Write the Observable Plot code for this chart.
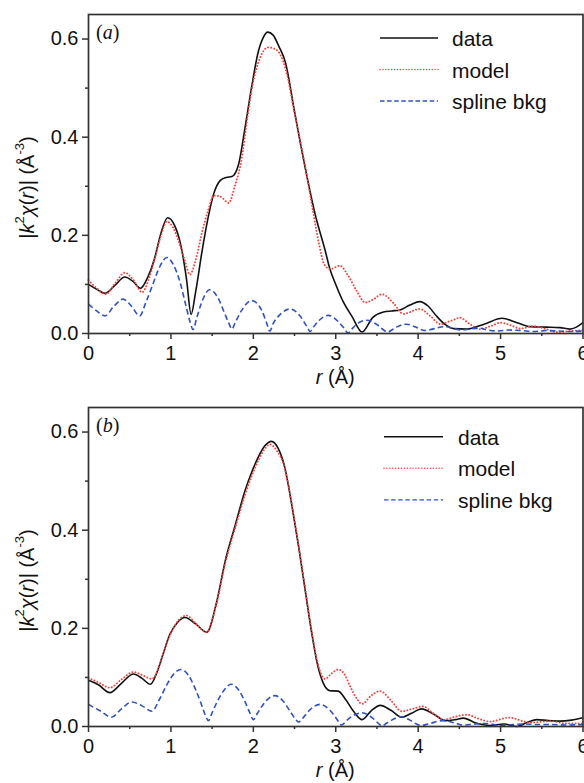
<!DOCTYPE html>
<html><head><meta charset="utf-8">
<script src="https://cdn.jsdelivr.net/npm/d3@7"></script>
<script src="https://cdn.jsdelivr.net/npm/@observablehq/plot@0.6"></script>
<style>
body{margin:0;background:#fff;}
#chart svg{display:block;}
</style></head><body><div id="chart"></div>
<script>
// ---------- data ----------
const xMajor = [0, 1, 2, 3, 4, 5, 6];
const xMinor = [0.5, 1.5, 2.5, 3.5, 4.5, 5.5];
const yMajor = [0, 0.2, 0.4, 0.6];
const yMinor = [0.1, 0.3, 0.5];
const seriesNames = ["data", "model", "spline bkg"];
const panelLetters = ["a", "b"];

// panel (a)
const aDataR = [0,0.1,0.2,0.32,0.44,0.54,0.63,0.72,0.8,0.88,0.96,1.04,1.12,1.19,1.245,1.3,1.38,1.45,1.52,1.6,1.67,1.74,1.82,1.9,1.98,2.06,2.12,2.175,2.24,2.31,2.39,2.5,2.63,2.75,2.87,2.93,3.0,3.09,3.2,3.32,3.45,3.58,3.68,3.78,3.9,4.02,4.12,4.22,4.33,4.43,4.59,4.8,5.02,5.2,5.36,5.55,5.72,5.84,5.92,6.0];
const aDataV = [0.100,0.090,0.082,0.098,0.115,0.106,0.092,0.115,0.152,0.205,0.236,0.222,0.180,0.110,0.039,0.085,0.170,0.235,0.285,0.312,0.318,0.320,0.344,0.420,0.503,0.574,0.603,0.614,0.608,0.585,0.552,0.452,0.337,0.243,0.170,0.131,0.100,0.065,0.034,0.003,0.033,0.044,0.046,0.048,0.058,0.065,0.056,0.036,0.018,0.010,0.009,0.019,0.031,0.022,0.014,0.013,0.012,0.009,0.013,0.022];
const aModelR = [0,0.1,0.21,0.33,0.44,0.55,0.65,0.73,0.8,0.88,0.95,1.03,1.1,1.17,1.23,1.3,1.38,1.45,1.52,1.6,1.7,1.78,1.86,1.92,1.98,2.08,2.18,2.28,2.39,2.5,2.63,2.73,2.8,2.86,2.93,3.05,3.15,3.25,3.36,3.46,3.56,3.7,3.82,4.02,4.15,4.27,4.4,4.51,4.62,4.75,4.88,5.0,5.12,5.24,5.4,5.55,5.68,5.85,6.0];
const aModelV = [0.109,0.092,0.080,0.104,0.124,0.108,0.084,0.110,0.150,0.200,0.228,0.215,0.185,0.148,0.120,0.150,0.208,0.250,0.281,0.279,0.266,0.303,0.357,0.430,0.497,0.561,0.583,0.578,0.540,0.450,0.340,0.243,0.180,0.141,0.131,0.138,0.118,0.088,0.063,0.070,0.080,0.062,0.040,0.050,0.035,0.019,0.026,0.032,0.020,0.009,0.015,0.022,0.017,0.010,0.015,0.009,0.003,0.005,0.007];
const aBkgR = [0,0.1,0.2,0.31,0.42,0.52,0.62,0.7,0.78,0.87,0.95,1.03,1.11,1.18,1.23,1.27,1.31,1.37,1.47,1.57,1.65,1.7,1.74,1.78,1.85,1.98,2.1,2.16,2.2,2.24,2.32,2.45,2.57,2.65,2.69,2.73,2.8,2.91,3.02,3.1,3.15,3.2,3.27,3.38,3.5,3.59,3.63,3.68,3.75,3.86,3.97,4.08,4.2,4.32,4.43,4.53,4.63,4.73,4.85,4.97,5.1,5.25,5.4,5.55,5.7,5.85,6.0];
const aBkgV = [0.060,0.046,0.036,0.056,0.070,0.056,0.036,0.065,0.100,0.138,0.155,0.140,0.105,0.058,0.025,0.008,0.030,0.062,0.089,0.073,0.042,0.022,0.009,0.022,0.045,0.067,0.048,0.022,0.005,0.020,0.038,0.050,0.035,0.014,0.004,0.013,0.027,0.037,0.026,0.011,0.001,0.010,0.021,0.027,0.018,0.006,0.003,0.007,0.014,0.019,0.013,0.006,0.010,0.014,0.010,0.007,0.009,0.011,0.007,0.005,0.007,0.006,0.004,0.006,0.005,0.004,0.005];

// panel (b)
const bDataR = [0,0.12,0.26,0.4,0.545,0.65,0.75,0.83,0.9,0.99,1.08,1.17,1.3,1.435,1.55,1.66,1.78,1.9,1.98,2.06,2.14,2.22,2.3,2.38,2.47,2.55,2.63,2.71,2.78,2.85,2.93,3.03,3.12,3.22,3.32,3.43,3.54,3.67,3.8,3.92,4.04,4.2,4.33,4.45,4.55,4.7,4.87,5.04,5.2,5.32,5.44,5.58,5.72,5.86,6.0];
const bDataV = [0.094,0.085,0.069,0.088,0.107,0.098,0.086,0.110,0.145,0.189,0.212,0.222,0.209,0.192,0.250,0.338,0.410,0.481,0.518,0.549,0.572,0.581,0.567,0.529,0.448,0.366,0.277,0.189,0.125,0.088,0.073,0.072,0.055,0.030,0.014,0.032,0.043,0.033,0.019,0.027,0.036,0.024,0.012,0.014,0.017,0.007,0.002,0.005,0.000,0.008,0.014,0.012,0.011,0.013,0.018];
const bModelR = [0,0.12,0.26,0.4,0.545,0.66,0.77,0.84,0.9,1.0,1.1,1.19,1.3,1.435,1.55,1.66,1.78,1.9,1.98,2.06,2.14,2.2,2.28,2.38,2.47,2.55,2.63,2.71,2.78,2.87,2.95,3.03,3.1,3.18,3.25,3.32,3.43,3.54,3.67,3.8,3.93,4.06,4.18,4.31,4.45,4.59,4.73,4.87,5.1,5.36,5.6,5.8,6.0];
const bModelV = [0.099,0.090,0.079,0.096,0.111,0.104,0.097,0.115,0.145,0.190,0.218,0.226,0.210,0.192,0.248,0.333,0.405,0.472,0.510,0.542,0.566,0.575,0.563,0.527,0.450,0.368,0.280,0.192,0.130,0.097,0.108,0.116,0.108,0.080,0.058,0.046,0.063,0.072,0.053,0.031,0.036,0.041,0.027,0.014,0.020,0.024,0.016,0.010,0.018,0.008,0.011,0.006,0.006];
const bBkgR = [0,0.14,0.28,0.4,0.525,0.65,0.77,0.86,0.95,1.04,1.12,1.21,1.3,1.37,1.42,1.455,1.5,1.56,1.64,1.73,1.82,1.9,1.96,2.0,2.05,2.12,2.19,2.265,2.36,2.45,2.51,2.55,2.6,2.68,2.81,2.93,3.01,3.07,3.13,3.2,3.32,3.44,3.52,3.56,3.61,3.69,3.79,3.9,3.98,4.04,4.12,4.3,4.45,4.55,4.68,4.8,4.92,5.0,5.15,5.3,5.45,5.6,5.8,6.0];
const bBkgV = [0.045,0.032,0.019,0.036,0.050,0.042,0.031,0.055,0.085,0.108,0.116,0.105,0.075,0.045,0.022,0.012,0.028,0.050,0.073,0.086,0.075,0.050,0.027,0.014,0.027,0.045,0.058,0.063,0.052,0.030,0.015,0.009,0.017,0.033,0.045,0.033,0.016,0.003,0.012,0.021,0.028,0.018,0.006,0.001,0.006,0.014,0.020,0.013,0.005,0.002,0.005,0.012,0.007,0.003,0.005,0.006,0.004,0.002,0.004,0.005,0.004,0.004,0.003,0.004];

// ---------- styling ----------
const FONT = "'Liberation Sans', Arial, Helvetica, sans-serif";
const SERIF = "'Liberation Serif', 'Times New Roman', Times, serif";
const AXIS = "#333";
const styles = [
  {stroke: "#111111", strokeWidth: 1.6, dash: null, cap: "butt"},
  {stroke: "#f0463e", strokeWidth: 1.9, dash: "0.1,3.1", cap: "round"},
  {stroke: "#2f52c2", strokeWidth: 1.6, dash: "5.5,3.2", cap: "butt"}
];
const toRows = (R, V) => R.map((r, i) => ({r, v: V[i]}));

function panel(cfg) {
  const series = cfg.series;
  const plot = Plot.plot({
    width: 584, height: cfg.height,
    marginTop: cfg.mt, marginBottom: cfg.mb, marginLeft: 88, marginRight: 1.5,
    style: {fontFamily: FONT, fontSize: "20px", color: "#111", background: "#fff", overflow: "hidden"},
    x: {domain: [0, 6]},
    y: {domain: [0, 0.65]},
    marks: [
      ...series.map((s, i) => Plot.line(s, {
        x: "r", y: "v", curve: "monotone-x",
        stroke: styles[i].stroke, strokeWidth: styles[i].strokeWidth,
        strokeDasharray: styles[i].dash, strokeLinecap: styles[i].cap
      })),
      Plot.axisX({ticks: xMajor, tickSize: 6, tickPadding: 6, tickFormat: d => String(d), label: null, stroke: AXIS, strokeWidth: 1.5}),
      Plot.axisX({ticks: xMinor, tickSize: 3, tickFormat: () => "", label: null, stroke: AXIS, strokeWidth: 1.5}),
      Plot.axisY({ticks: yMajor, tickSize: 6, tickPadding: 4, tickFormat: d3.format(".1f"), label: null, stroke: AXIS, strokeWidth: 1.5}),
      Plot.axisY({ticks: yMinor, tickSize: 3, tickFormat: () => "", label: null, stroke: AXIS, strokeWidth: 1.5}),
      Plot.frame({stroke: AXIS, strokeWidth: 1.7})
    ]
  });
  const svg = d3.select(plot);
  const axisY = cfg.height - cfg.mb;
  const cy = (cfg.mt + axisY) / 2 + 14;

  // y title
  const yt = svg.append("text")
    .attr("transform", `translate(27,${cy}) rotate(-90)`)
    .attr("text-anchor", "middle").attr("dominant-baseline", "central")
    .style("font-family", FONT).style("font-size", "20px").attr("fill", "#111");
  yt.append("tspan").text("|");
  yt.append("tspan").attr("font-style", "italic").text("k");
  yt.append("tspan").attr("font-size", "13px").attr("dy", -8).text("2");
  yt.append("tspan").attr("font-style", "italic").attr("dy", 8).text("\u03C7");
  yt.append("tspan").text("(");
  yt.append("tspan").attr("font-style", "italic").text("r");
  yt.append("tspan").text(")| (\u00C5");
  yt.append("tspan").attr("font-size", "13px").attr("dy", -8).text("-3");
  yt.append("tspan").attr("dy", 8).text(")");

  // x title
  const xt = svg.append("text")
    .attr("x", (88 + 582.5) / 2).attr("y", axisY + 51)
    .attr("text-anchor", "middle")
    .style("font-family", FONT).style("font-size", "20px").attr("fill", "#111");
  xt.append("tspan").attr("font-style", "italic").text("r");
  xt.append("tspan").text(" (\u00C5)");

  // panel letter
  const pl = svg.append("text").attr("x", 96).attr("y", cfg.mt + 25)
    .attr("text-anchor", "start")
    .style("font-family", SERIF).style("font-size", "20px").attr("fill", "#111");
  pl.append("tspan").text("(");
  pl.append("tspan").attr("font-style", "italic").text(cfg.letter);
  pl.append("tspan").text(")");

  // legend
  const lg = cfg.legend;
  seriesNames.forEach((name, i) => {
    const y = lg.y0 + i * lg.dy;
    svg.append("line").attr("x1", lg.x1).attr("x2", lg.x2).attr("y1", y).attr("y2", y)
      .attr("stroke", styles[i].stroke).attr("stroke-width", i === 0 ? 1.5 : 1.4)
      .attr("stroke-linecap", i === 1 ? "round" : "butt")
      .attr("stroke-dasharray", i === 0 ? null : (i === 1 ? "0.1,2.8" : "4.5,2.6"));
    svg.append("text").attr("x", lg.tx).attr("y", y + 8)
      .attr("text-anchor", "start")
      .style("font-family", FONT).style("font-size", "21px").attr("fill", "#111").text(name);
  });
  return plot;
}

const root = document.getElementById("chart");
root.appendChild(panel({
  height: 392, mt: 14, mb: 59, letter: panelLetters[0],
  series: [toRows(aDataR, aDataV), toRows(aModelR, aModelV), toRows(aBkgR, aBkgV)],
  legend: {x1: 380, x2: 438, tx: 452, y0: 38, dy: 31.5}
}));
root.appendChild(panel({
  height: 391, mt: 15, mb: 57, letter: panelLetters[1],
  series: [toRows(bDataR, bDataV), toRows(bModelR, bModelV), toRows(bBkgR, bBkgV)],
  legend: {x1: 384, x2: 443, tx: 458, y0: 44.7, dy: 31.6}
}));
</script></body></html>
